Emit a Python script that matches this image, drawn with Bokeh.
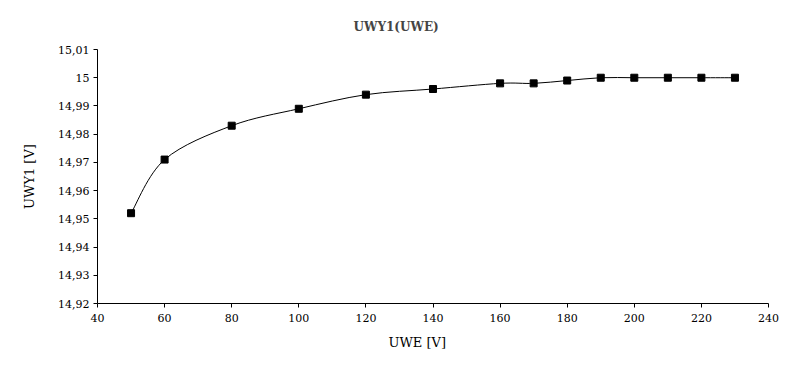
from bokeh.plotting import figure
from bokeh.models import Range1d, FixedTicker, CustomJSTickFormatter, ColumnDataSource, Title
from bokeh.embed import file_html
from bokeh.resources import INLINE

# data
uwe = [50, 60, 80, 100, 120, 140, 160, 170, 180, 190, 200, 210, 220, 230]
uwy1 = [14.952, 14.971, 14.983, 14.989, 14.994, 14.996, 14.998, 14.998, 14.999, 15.000, 15.000, 15.000, 15.000, 15.000]
x_ticks = [40, 60, 80, 100, 120, 140, 160, 180, 200, 220, 240]
y_ticks = [14.92, 14.93, 14.94, 14.95, 14.96, 14.97, 14.98, 14.99, 15.00, 15.01]
title_text = "UWY1(UWE)"
x_label = "UWE [V]"
y_label = "UWY1 [V]"

FONT = "DejaVu Serif"

p = figure(width=779, height=357, output_backend="svg", toolbar_location=None,
           x_range=Range1d(40, 240), y_range=Range1d(14.92, 15.01),
           min_border_left=97, min_border_right=11, min_border_top=49, min_border_bottom=54)
p.title.text = title_text
p.title.text_font = FONT
p.title.text_font_size = "12px"
p.title.text_font_style = "bold"
p.title.align = "left"
p.title.offset = 256
p.title.standoff = 28
p.title.vertical_align = "top"
p.outline_line_color = None
p.background_fill_color = "white"
p.border_fill_color = "white"
p.xgrid.visible = False
p.ygrid.visible = False

for ax in (p.xaxis[0], p.yaxis[0]):
    ax.axis_line_color = "black"
    ax.major_tick_line_color = "black"
    ax.major_tick_out = 4
    ax.major_tick_in = 0
    ax.minor_tick_line_color = None
    ax.major_label_text_font = FONT
    ax.major_label_text_font_size = "11px"
    ax.major_label_text_color = "black"
    ax.axis_label_text_font = FONT
    ax.axis_label_text_font_size = "13px"
    ax.axis_label_text_font_style = "normal"
    ax.axis_label_text_color = "black"

p.xaxis.ticker = FixedTicker(ticks=x_ticks)
p.yaxis.ticker = FixedTicker(ticks=y_ticks)
p.yaxis.formatter = CustomJSTickFormatter(code="""
var s = (Math.round(tick*100)/100).toString();
return s.replace('.', ',');
""")
p.yaxis.axis_label = y_label
p.yaxis.axis_label_standoff = 18
p.xaxis.major_label_standoff = 6
p.yaxis.major_label_standoff = 4

xt = Title(text=x_label, align="left", offset=291, text_font=FONT, text_font_size="13px",
           text_font_style="normal", text_color="black", standoff=16)
p.add_layout(xt, "below")

# smoothed line (Catmull-Rom style bezier between the measured points)
n = len(uwe)
x0, y0, x1, y1, cx0, cy0, cx1, cy1 = [], [], [], [], [], [], [], []
for i in range(n - 1):
    pm = max(i - 1, 0)
    pp = min(i + 2, n - 1)
    x0.append(uwe[i]); y0.append(uwy1[i])
    x1.append(uwe[i + 1]); y1.append(uwy1[i + 1])
    cx0.append(uwe[i] + (uwe[i + 1] - uwe[pm]) / 6.0)
    cy0.append(uwy1[i] + (uwy1[i + 1] - uwy1[pm]) / 6.0)
    cx1.append(uwe[i + 1] - (uwe[pp] - uwe[i]) / 6.0)
    cy1.append(uwy1[i + 1] - (uwy1[pp] - uwy1[i]) / 6.0)
bsrc = ColumnDataSource(dict(x0=x0, y0=y0, x1=x1, y1=y1, cx0=cx0, cy0=cy0, cx1=cx1, cy1=cy1))
p.bezier(x0="x0", y0="y0", x1="x1", y1="y1", cx0="cx0", cy0="cy0", cx1="cx1", cy1="cy1",
         source=bsrc, line_color="black", line_width=1)

p.scatter(uwe, uwy1, marker="square", size=7, fill_color="black", line_color="black")

open("out.html", "w").write(file_html(p, INLINE))
